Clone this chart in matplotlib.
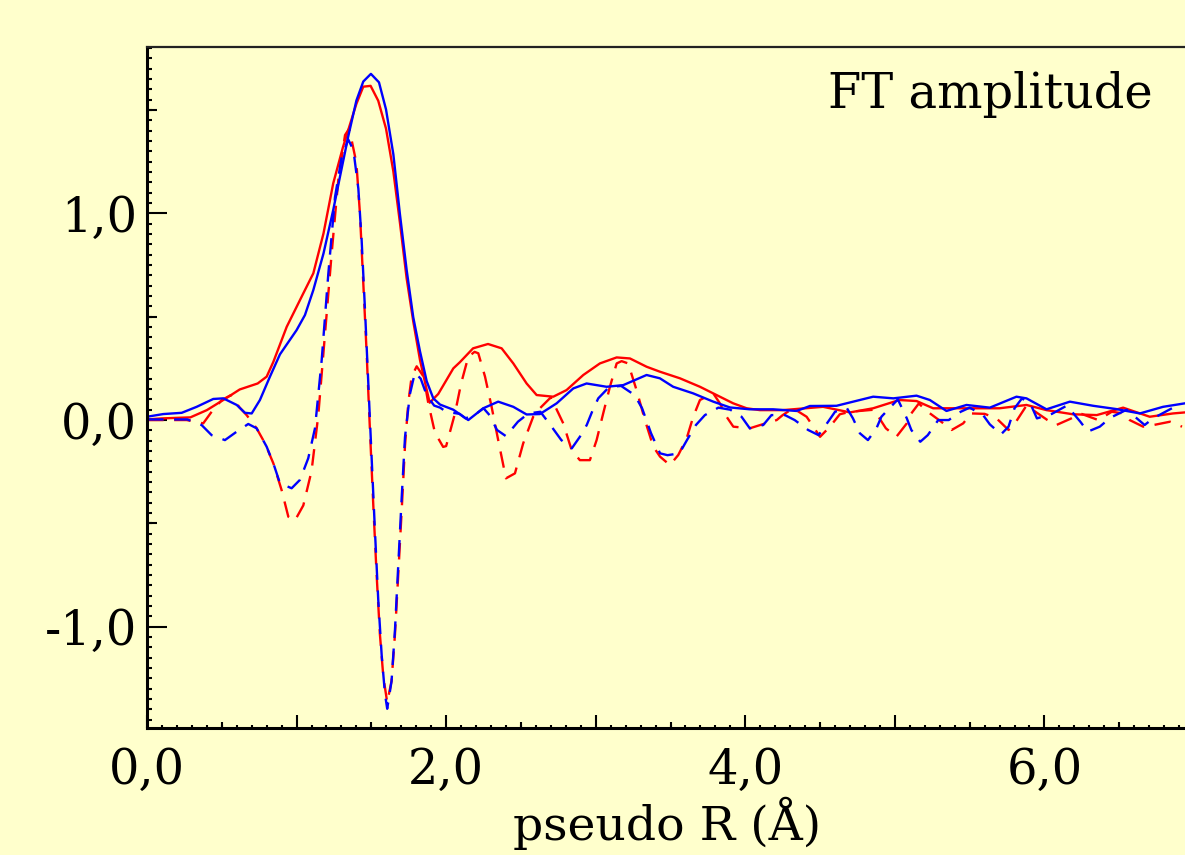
import numpy as np
import matplotlib
matplotlib.use('Agg')
import matplotlib.pyplot as plt
from matplotlib.ticker import MultipleLocator, FixedLocator, FuncFormatter

plt.rcParams['font.family'] = ['DejaVu Serif']
plt.rcParams['axes.unicode_minus'] = False

# ---------------- data ----------------
# red solid: FT magnitude (sample 1)
rs_x = [0.00, 0.10, 0.29, 0.40, 0.51, 0.62, 0.74, 0.80, 0.845, 0.934, 1.045, 1.112, 1.18, 1.245,
        1.31, 1.38, 1.40, 1.446, 1.495, 1.546, 1.598, 1.647, 1.691, 1.736, 1.78, 1.825, 1.87,
        1.89, 1.947, 2.048, 2.092, 2.18, 2.28, 2.371, 2.449, 2.538, 2.605, 2.716, 2.805, 2.917,
        3.028, 3.14, 3.229, 3.34, 3.429, 3.563, 3.697, 3.808, 3.919, 4.009, 4.098, 4.25, 4.52,
        4.70, 4.855, 5.03, 5.145, 5.256, 5.524, 5.70, 5.88, 6.014, 6.19, 6.35, 6.526, 6.704,
        6.86, 6.94]
rs_y = [0.003, 0.008, 0.013, 0.048, 0.097, 0.148, 0.177, 0.21, 0.282, 0.451, 0.613, 0.71, 0.903,
        1.145, 1.32, 1.484, 1.53, 1.613, 1.617, 1.545, 1.41, 1.203, 0.955, 0.685, 0.478, 0.291,
        0.146, 0.084, 0.126, 0.25, 0.28, 0.347, 0.368, 0.347, 0.274, 0.177, 0.121, 0.113, 0.145,
        0.218, 0.274, 0.303, 0.298, 0.258, 0.234, 0.202, 0.161, 0.121, 0.081, 0.057, 0.048,
        0.048, 0.064, 0.037, 0.057, 0.097, 0.092, 0.057, 0.057, 0.057, 0.073, 0.048, 0.028,
        0.024, 0.060, 0.016, 0.032, 0.037]

# red dashed: FT imaginary part (sample 1)
rd_x = [0.0, 0.265, 0.376, 0.432, 0.50, 0.56, 0.62, 0.666, 0.733, 0.789, 0.845, 0.90, 0.945,
        0.989, 1.045, 1.10, 1.145, 1.19, 1.235, 1.279, 1.324, 1.352, 1.40, 1.424, 1.446, 1.468,
        1.49, 1.513, 1.535, 1.557, 1.58, 1.606, 1.635, 1.658, 1.68, 1.703, 1.725, 1.747, 1.769,
        1.803, 1.85, 1.88, 1.925, 1.98, 2.0, 2.059, 2.10, 2.148, 2.19, 2.215, 2.26, 2.304, 2.348,
        2.40, 2.46, 2.515, 2.582, 2.627, 2.70, 2.783, 2.839, 2.894, 2.961, 3.006, 3.05, 3.095,
        3.14, 3.173, 3.217, 3.273, 3.329, 3.385, 3.43, 3.496, 3.552, 3.608, 3.652, 3.697, 3.786,
        3.83, 3.875, 3.92, 4.03, 4.10, 4.21, 4.25, 4.32, 4.41, 4.50, 4.566, 4.632, 4.70, 4.86,
        4.94, 5.01, 5.08, 5.11, 5.16, 5.22, 5.31, 5.38, 5.457, 5.51, 5.60, 5.68, 5.76, 5.81,
        5.88, 6.02, 6.08, 6.18, 6.24, 6.36, 6.45, 6.53, 6.57, 6.66, 6.73, 6.84, 6.92]
rd_y = [0.0, 0.0, -0.016, 0.04, 0.097, 0.12, 0.06, 0.024, -0.04, -0.113, -0.21, -0.339, -0.468,
        -0.486, -0.413, -0.247, 0.022, 0.416, 0.81, 1.162, 1.379, 1.41, 1.244, 0.996, 0.664,
        0.333, -0.04, -0.413, -0.745, -1.035, -1.242, -1.366, -1.263, -1.035, -0.745, -0.434,
        -0.123, 0.084, 0.209, 0.26, 0.209, 0.084, -0.061, -0.13, -0.126, 0.032, 0.177, 0.306,
        0.33, 0.323, 0.21, 0.064, -0.097, -0.282, -0.258, -0.113, 0.016, 0.057, 0.11, -0.016,
        -0.145, -0.194, -0.194, -0.097, 0.032, 0.161, 0.274, 0.285, 0.274, 0.145, 0.0, -0.129,
        -0.177, -0.218, -0.169, -0.089, 0.016, 0.097, 0.129, 0.081, 0.016, -0.032, -0.04,
        -0.024, 0.0, 0.024, 0.057, 0.016, -0.081, -0.032, 0.028, 0.04, 0.05, -0.04, -0.081,
        -0.016, 0.032, 0.08, 0.04, -0.008, -0.048, -0.016, 0.032, 0.03, 0.008, -0.048, -0.008,
        0.07, 0.0, -0.024, 0.008, 0.032, 0.0, 0.04, 0.032, 0.0, -0.032, -0.024, -0.008, -0.032]

# blue solid: FT magnitude (sample 2)
bs_x = [0.00, 0.109, 0.232, 0.332, 0.443, 0.51, 0.60, 0.655, 0.70, 0.755, 0.822, 0.889, 1.0,
        1.056, 1.112, 1.18, 1.245, 1.29, 1.345, 1.40, 1.446, 1.497, 1.551, 1.598, 1.647, 1.691,
        1.736, 1.78, 1.825, 1.87, 1.914, 1.959, 2.048, 2.148, 2.248, 2.348, 2.449, 2.538, 2.627,
        2.739, 2.85, 2.939, 3.073, 3.184, 3.34, 3.429, 3.518, 3.652, 3.786, 3.897, 4.03, 4.186,
        4.343, 4.432, 4.61, 4.855, 4.99, 5.145, 5.234, 5.345, 5.479, 5.635, 5.813, 5.88, 6.014,
        6.17, 6.326, 6.482, 6.638, 6.793, 6.94]
bs_y = [0.016, 0.029, 0.035, 0.064, 0.102, 0.105, 0.073, 0.035, 0.032, 0.097, 0.21, 0.318,
        0.435, 0.508, 0.629, 0.806, 1.016, 1.177, 1.371, 1.546, 1.638, 1.675, 1.634, 1.503,
        1.286, 0.996, 0.726, 0.498, 0.333, 0.188, 0.105, 0.075, 0.05, 0.0, 0.057, 0.089, 0.064,
        0.027, 0.029, 0.081, 0.153, 0.177, 0.161, 0.169, 0.218, 0.202, 0.161, 0.129, 0.089,
        0.061, 0.052, 0.052, 0.044, 0.068, 0.069, 0.113, 0.105, 0.118, 0.097, 0.044, 0.073,
        0.060, 0.113, 0.105, 0.052, 0.089, 0.069, 0.053, 0.032, 0.064, 0.081]

# blue dashed: FT imaginary part (sample 2)
bd_x = [0.0, 0.27, 0.365, 0.432, 0.521, 0.60, 0.677, 0.733, 0.80, 0.845, 0.889, 0.967, 1.023,
        1.078, 1.123, 1.168, 1.212, 1.257, 1.30, 1.345, 1.38, 1.413, 1.435, 1.457, 1.479, 1.502,
        1.524, 1.546, 1.569, 1.591, 1.606, 1.635, 1.658, 1.68, 1.703, 1.725, 1.758, 1.791, 1.83,
        1.87, 1.92, 1.96, 2.0, 2.09, 2.13, 2.20, 2.25, 2.29, 2.34, 2.40, 2.48, 2.55, 2.63, 2.705,
        2.77, 2.84, 2.894, 2.94, 2.98, 3.017, 3.09, 3.17, 3.26, 3.31, 3.37, 3.43, 3.48, 3.56,
        3.61, 3.67, 3.73, 3.82, 3.90, 3.975, 4.03, 4.12, 4.175, 4.265, 4.33, 4.42, 4.49, 4.554,
        4.60, 4.68, 4.72, 4.766, 4.82, 4.877, 4.91, 5.02, 5.08, 5.11, 5.17, 5.22, 5.29, 5.36,
        5.44, 5.50, 5.59, 5.635, 5.71, 5.76, 5.80, 5.85, 5.91, 5.95, 6.05, 6.15, 6.24, 6.29,
        6.37, 6.44, 6.55, 6.67, 6.726, 6.86, 6.92]
bd_y = [0.003, 0.003, -0.024, -0.073, -0.097, -0.056, -0.019, -0.040, -0.129, -0.21, -0.306,
        -0.33, -0.289, -0.185, -0.04, 0.291, 0.706, 1.079, 1.265, 1.358, 1.306, 1.12, 0.871,
        0.54, 0.188, -0.185, -0.537, -0.869, -1.138, -1.325, -1.397, -1.263, -1.014, -0.70,
        -0.372, -0.082, 0.126, 0.229, 0.20, 0.12, 0.07, 0.06, 0.04, 0.03, 0.008, 0.03, 0.057,
        0.024, -0.048, -0.078, -0.008, 0.032, 0.04, -0.032, -0.097, -0.137, -0.081, -0.024,
        0.048, 0.105, 0.16, 0.165, 0.121, 0.057, -0.064, -0.161, -0.17, -0.161, -0.097, -0.024,
        0.024, 0.06, 0.05, 0.016, -0.04, -0.024, 0.024, 0.024, 0.0, -0.048, -0.073, -0.008,
        0.04, 0.057, 0.008, -0.064, -0.097, -0.04, 0.016, 0.1, 0.008, -0.048, -0.105, -0.073,
        0.0, 0.0, 0.04, 0.06, 0.024, -0.021, -0.069, -0.032, 0.057, 0.105, 0.073, 0.008, 0.03,
        0.07, -0.008, -0.056, -0.032, 0.011, 0.05, -0.024, 0.008, 0.06, 0.06]

x_major = [0, 1, 2, 3, 4, 5, 6, 7]
x_labelled = [0, 2, 4, 6]
y_major = [-1.0, 0.0, 1.0]
x_mid = [0.5, 1.5, 2.5, 3.5, 4.5, 5.5, 6.5]
y_mid = [-0.5, 0.5, 1.5]

title_text = 'FT amplitude'
xlabel_text = 'pseudo R (Å)'

# ---------------- figure ----------------
BG = '#FFFFCC'
fig = plt.figure(figsize=(11.85, 8.55), dpi=100, facecolor=BG)
ax = fig.add_axes([147 / 1185, 1 - 728 / 855, 1047 / 1185, 681 / 855])
ax.set_facecolor(BG)

LW = 1.7
dash = (0, (7, 4.5))
ax.plot(rs_x, rs_y, color='#FF0000', lw=LW)
ax.plot(rd_x, rd_y, color='#FF0000', lw=LW, ls=dash)
ax.plot(bs_x, bs_y, color='#0000FF', lw=LW)
ax.plot(bd_x, bd_y, color='#0000FF', lw=LW, ls=dash)

ax.set_xlim(0, 7)
ax.set_ylim(-1.49, 1.805)


def comma_fmt(v):
    return f"{v:.1f}".replace('.', ',')


ax.xaxis.set_major_locator(FixedLocator(x_major))
ax.xaxis.set_major_formatter(FuncFormatter(
    lambda v, p: comma_fmt(v) if any(abs(v - l) < 1e-6 for l in x_labelled) else ''))
ax.xaxis.set_minor_locator(MultipleLocator(0.1))
ax.yaxis.set_major_locator(FixedLocator(y_major))
ax.yaxis.set_major_formatter(FuncFormatter(lambda v, p: comma_fmt(v)))
ax.yaxis.set_minor_locator(MultipleLocator(0.05))

FS = 34.5
ax.tick_params(axis='x', which='major', direction='in', length=9.4, width=1.5,
               pad=14, labelsize=FS, top=False, colors='black')
ax.tick_params(axis='x', which='minor', direction='in', length=2.2, width=1.5, top=False)
ax.tick_params(axis='y', which='major', direction='in', length=14.4, width=1.5,
               pad=7, labelsize=FS, right=False)
ax.tick_params(axis='y', which='minor', direction='in', length=3.6, width=1.5, right=False)

secx = ax.secondary_xaxis('bottom')
secx.set_xticks(x_mid)
secx.tick_params(direction='in', length=4.3, width=1.5, labelbottom=False)
for s in secx.spines.values():
    s.set_visible(False)
secy = ax.secondary_yaxis('left')
secy.set_yticks(y_mid)
secy.tick_params(direction='in', length=7.2, width=1.5, labelleft=False)
for s in secy.spines.values():
    s.set_visible(False)

for side in ['left', 'bottom', 'right']:
    ax.spines[side].set_linewidth(2.2)
ax.spines['top'].set_linewidth(1.6)
ax.spines['top'].set_color('#222222')

ax.text(0.961, 0.911, title_text, transform=ax.transAxes, ha='right', va='baseline',
        fontsize=FS)
fig.text(667 / 1185, 15 / 855, xlabel_text, ha='center', va='baseline', fontsize=34)

fig.savefig('out.png', dpi=100, facecolor=BG)
